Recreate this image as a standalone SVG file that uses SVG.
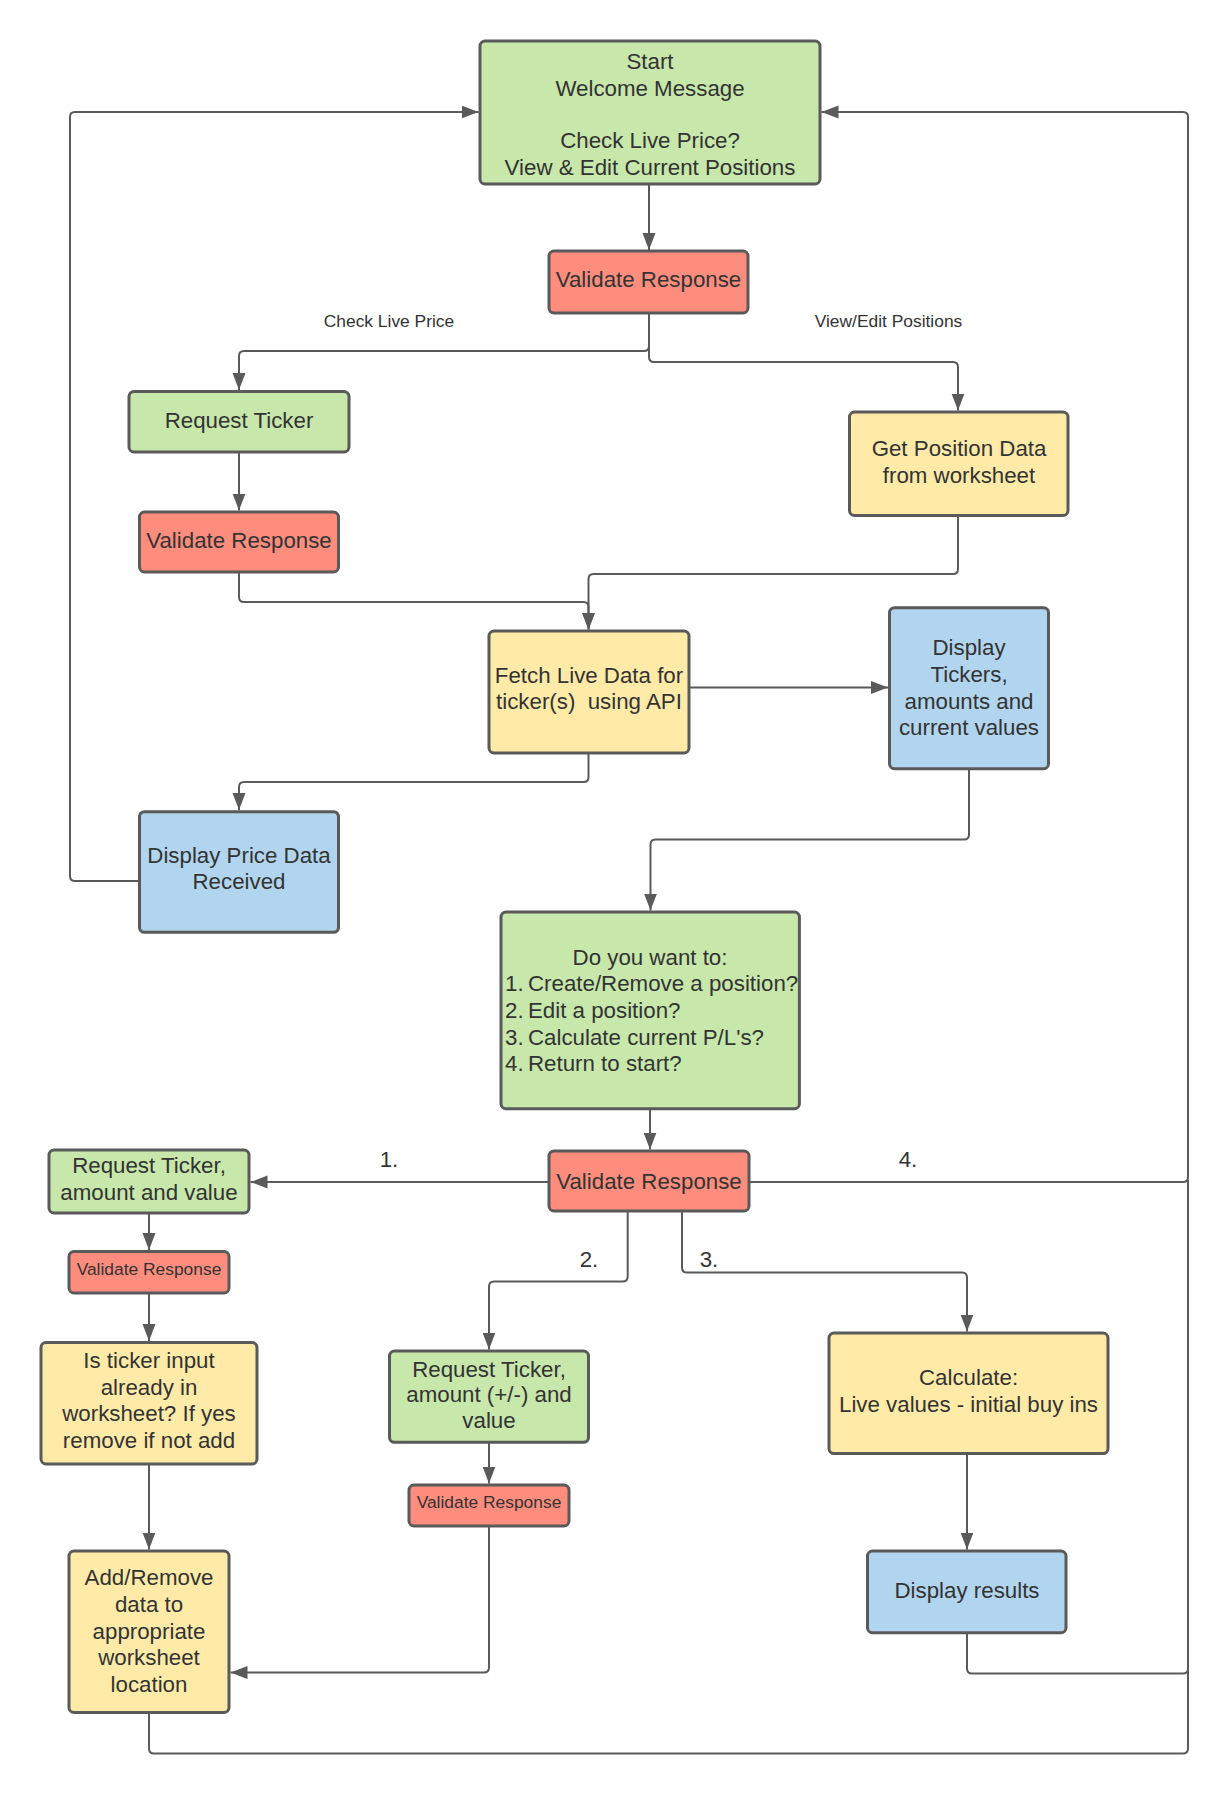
<svg xmlns="http://www.w3.org/2000/svg" width="1229" height="1793" viewBox="0 0 1229 1793">
<defs>
<marker id="arr" markerUnits="userSpaceOnUse" markerWidth="18" markerHeight="14" refX="17" refY="6.5" orient="auto">
<path d="M0,0 L17,6.5 L0,13 z" fill="#5a5a5a"/>
</marker>
<style>
.box{stroke:#5a5a5a;stroke-width:3}
.g{fill:#c7e7ab}.r{fill:#ff8d7e}.y{fill:#ffeba7}.b{fill:#b1d5ee}
text{font-family:"Liberation Sans",Arial,sans-serif;fill:#333333}
.t{font-size:22.3px;text-anchor:middle}
.tl{font-size:22.3px}
.s{font-size:17.4px;text-anchor:middle}
.c{fill:none;stroke:#5a5a5a;stroke-width:2}
.ca{fill:none;stroke:#5a5a5a;stroke-width:2;marker-end:url(#arr)}
</style>
</defs>
<rect width="1229" height="1793" fill="#ffffff"/>
<g id="connectors">
<path class="ca" d="M649,184 V250"/>
<path class="ca" d="M649,313 V346 Q649,351 644,351 H244 Q239,351 239,356 V390"/>
<path class="ca" d="M649,313 V357 Q649,362 654,362 H953 Q958,362 958,367 V410.5"/>
<path class="ca" d="M239,452 V510.5"/>
<path class="ca" d="M239,572 V597 Q239,602 244,602 H583.5 Q588.5,602 588.5,607 V629.5"/>
<path class="ca" d="M958,515.5 V569 Q958,574 953,574 H593.5 Q588.5,574 588.5,579 V629.5"/>
<path class="ca" d="M689,687.5 H888"/>
<path class="ca" d="M588.5,753 V777 Q588.5,782 583.5,782 H244 Q239,782 239,787 V810"/>
<path class="ca" d="M139.5,881 H75 Q70,881 70,876 V117 Q70,112 75,112 H478.5"/>
<path class="ca" d="M969,768.6 V834.4 Q969,839.4 964,839.4 H655.5 Q650.5,839.4 650.5,844.4 V910.5"/>
<path class="ca" d="M650,1108.7 V1149.5"/>
<path class="ca" d="M549,1182 H250.5"/>
<path class="ca" d="M749,1182 H1183 Q1188,1182 1188,1177 V117 Q1188,112 1183,112 H821.5"/>
<path class="ca" d="M627.7,1211 V1276.6 Q627.7,1281.6 622.7,1281.6 H494 Q489,1281.6 489,1286.6 V1349.5"/>
<path class="ca" d="M682,1211 V1267.6 Q682,1272.6 687,1272.6 H962 Q967,1272.6 967,1277.6 V1331.5"/>
<path class="ca" d="M149,1213 V1250"/>
<path class="ca" d="M149,1293 V1341"/>
<path class="ca" d="M149,1464 V1549.5"/>
<path class="ca" d="M489,1442.3 V1483.5"/>
<path class="ca" d="M489,1526 V1667.6 Q489,1672.6 484,1672.6 H230.5"/>
<path class="ca" d="M967,1453.6 V1549.5"/>
<path class="c" d="M967,1632.7 V1668.4 Q967,1673.4 972,1673.4 H1183 Q1188,1673.4 1188,1668.4 V1180"/>
<path class="c" d="M149,1712.5 V1748.5 Q149,1753.5 154,1753.5 H1183 Q1188,1753.5 1188,1748.5 V1180"/>
<text class="s" x="389" y="327">Check Live Price</text>
<text class="s" x="888.5" y="327">View/Edit Positions</text>
<text class="t" x="389" y="1167">1.</text>
<text class="t" x="908" y="1167">4.</text>
<text class="t" x="589" y="1266.7">2.</text>
<text class="t" x="709" y="1266.7">3.</text>
</g>
<g id="start">
<rect class="box g" x="480" y="41" width="340" height="143" rx="5"/>
<text class="t" x="650" y="69">Start</text>
<text class="t" x="650" y="95.5">Welcome Message</text>
<text class="t" x="650" y="148">Check Live Price?</text>
<text class="t" x="650" y="174.5">View &amp; Edit Current Positions</text>
</g>
<g id="validate1">
<rect class="box r" x="549" y="251" width="199" height="62" rx="5"/>
<text class="t" x="648.5" y="287">Validate Response</text>
</g>
<g id="request-ticker">
<rect class="box g" x="129" y="391.5" width="220" height="60.5" rx="5"/>
<text class="t" x="239" y="428">Request Ticker</text>
</g>
<g id="validate2">
<rect class="box r" x="139.5" y="512" width="199" height="60" rx="5"/>
<text class="t" x="239" y="548">Validate Response</text>
</g>
<g id="get-position">
<rect class="box y" x="849.5" y="412" width="218.5" height="103.5" rx="5"/>
<text class="t" x="959" y="456">Get Position Data</text>
<text class="t" x="959" y="482.5">from worksheet</text>
</g>
<g id="fetch">
<rect class="box y" x="489" y="631" width="200" height="122" rx="5"/>
<text class="t" x="589" y="683">Fetch Live Data for</text>
<text class="t" x="589" y="709" xml:space="preserve">ticker(s)  using API</text>
</g>
<g id="display-tickers">
<rect class="box b" x="889.5" y="607.7" width="159" height="161" rx="5"/>
<text class="t" x="969" y="655">Display</text>
<text class="t" x="969" y="681.5">Tickers,</text>
<text class="t" x="969" y="708.5">amounts and</text>
<text class="t" x="969" y="735">current values</text>
</g>
<g id="display-price">
<rect class="box b" x="139.5" y="811.7" width="199" height="120.6" rx="5"/>
<text class="t" x="239" y="863">Display Price Data</text>
<text class="t" x="239" y="889">Received</text>
</g>
<g id="menu">
<rect class="box g" x="501" y="912" width="298.4" height="196.7" rx="5"/>
<text class="t" x="650" y="965">Do you want to:</text>
<text class="tl" x="505" y="991">1.</text><text class="tl" x="528" y="991">Create/Remove a position?</text>
<text class="tl" x="505" y="1018">2.</text><text class="tl" x="528" y="1018">Edit a position?</text>
<text class="tl" x="505" y="1044.5">3.</text><text class="tl" x="528" y="1044.5">Calculate current P/L's?</text>
<text class="tl" x="505" y="1071">4.</text><text class="tl" x="528" y="1071">Return to start?</text>
</g>
<g id="validate3">
<rect class="box r" x="549" y="1151" width="200" height="60" rx="5"/>
<text class="t" x="649" y="1189">Validate Response</text>
</g>
<g id="request-ticker-amount">
<rect class="box g" x="49" y="1150" width="200" height="63" rx="5"/>
<text class="t" x="149" y="1173">Request Ticker,</text>
<text class="t" x="149" y="1199.5">amount and value</text>
</g>
<g id="validate-a">
<rect class="box r" x="69" y="1251.5" width="160" height="41.5" rx="5"/>
<text class="s" x="149" y="1274.5">Validate Response</text>
</g>
<g id="is-ticker">
<rect class="box y" x="41" y="1342.6" width="216" height="121.4" rx="5"/>
<text class="t" x="149" y="1368">Is ticker input</text>
<text class="t" x="149" y="1394.5">already in</text>
<text class="t" x="149" y="1421">worksheet? If yes</text>
<text class="t" x="149" y="1447.5">remove if not add</text>
</g>
<g id="add-remove">
<rect class="box y" x="69" y="1551" width="160" height="161.5" rx="5"/>
<text class="t" x="149" y="1585">Add/Remove</text>
<text class="t" x="149" y="1611.5">data to</text>
<text class="t" x="149" y="1638.5">appropriate</text>
<text class="t" x="149" y="1665">worksheet</text>
<text class="t" x="149" y="1691.5">location</text>
</g>
<g id="request-ticker-pm">
<rect class="box g" x="389.5" y="1351" width="199" height="91.3" rx="5"/>
<text class="t" x="489" y="1376.5">Request Ticker,</text>
<text class="t" x="489" y="1402">amount (+/-) and</text>
<text class="t" x="489" y="1428">value</text>
</g>
<g id="validate-b">
<rect class="box r" x="409" y="1485" width="160" height="41" rx="5"/>
<text class="s" x="489" y="1507.7">Validate Response</text>
</g>
<g id="calculate">
<rect class="box y" x="829" y="1333" width="279" height="120.6" rx="5"/>
<text class="t" x="968.5" y="1384.5">Calculate:</text>
<text class="t" x="968.5" y="1411.5">Live values - initial buy ins</text>
</g>
<g id="display-results">
<rect class="box b" x="867.5" y="1551" width="198.5" height="81.7" rx="5"/>
<text class="t" x="967" y="1597.5">Display results</text>
</g>
</svg>
